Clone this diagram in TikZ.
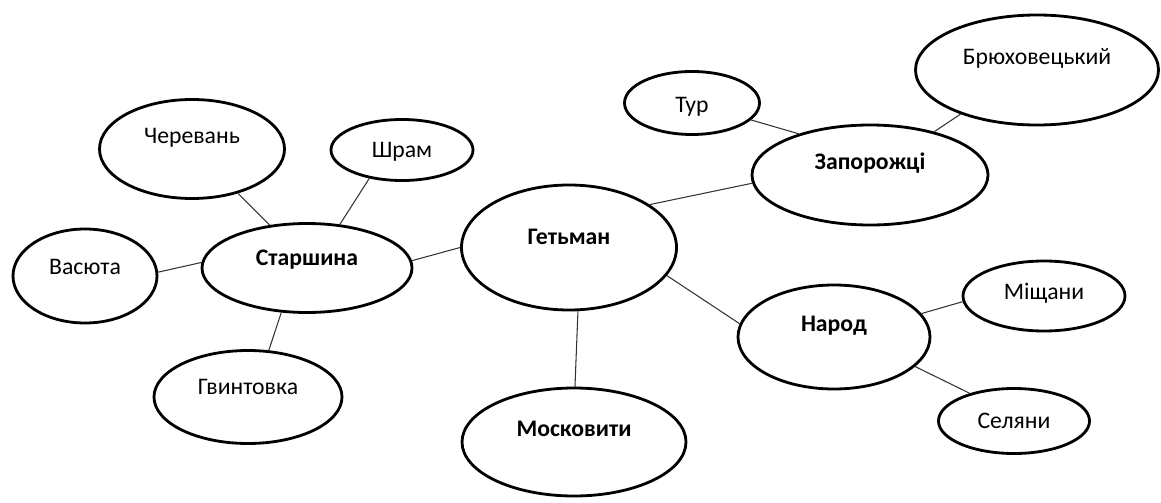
\documentclass[tikz,border=0pt]{standalone}
\usepackage{fontspec}
\setmainfont{Carlito}
\usetikzlibrary{shapes.geometric}
\begin{document}
\begin{tikzpicture}[
                oval/.style={shape=ellipse, draw=black, line width=1.6pt, inner sep=0pt},
                txt/.style={font=\fontsize{13.5}{16}\selectfont},
                bold/.style={font=\fontsize{13.5}{16}\selectfont\bfseries},
                linha/.style={draw=black!80, line width=0.6pt},
            ]
            \useasboundingbox (0, 0) rectangle (23.22, 10.04);

            \node[oval, minimum width=4.3cm, minimum height=2.5cm, label={[bold, yshift=0.21cm]center:Гетьман}] (het) at (11.38, 5.09) {};
            \node[oval, minimum width=4.2cm, minimum height=1.78cm, label={[bold, yshift=0.16cm]center:Старшина}] (sta) at (6.14, 4.68) {};
            \node[oval, minimum width=4.72cm, minimum height=2.0cm, label={[bold, yshift=0.24cm]center:Запорожці}] (zap) at (17.40, 6.54) {};
            \node[oval, minimum width=3.84cm, minimum height=2.08cm, label={[bold, yshift=0.22cm]center:Народ}] (nar) at (16.68, 3.30) {};
            \node[oval, minimum width=4.48cm, minimum height=2.16cm, label={[bold, yshift=0.26cm]center:Московити}] (mos) at (11.48, 1.20) {};

            \node[oval, minimum width=3.7cm, minimum height=1.98cm, label={[txt, yshift=0.22cm]center:Черевань}] (che) at (3.84, 7.06) {};
            \node[oval, minimum width=2.84cm, minimum height=1.22cm, label={[txt, yshift=-0.04cm]center:Шрам}] (shr) at (8.04, 7.04) {};
            \node[oval, minimum width=2.88cm, minimum height=1.88cm, label={[txt, yshift=0.18cm]center:Васюта}] (vas) at (1.70, 4.52) {};
            \node[oval, minimum width=3.76cm, minimum height=1.86cm, label={[txt, yshift=0.2cm]center:Гвинтовка}] (hvy) at (4.96, 2.10) {};
            \node[oval, minimum width=2.7cm, minimum height=1.26cm, label={[txt, yshift=-0.08cm]center:Тур}] (tur) at (13.84, 7.98) {};
            \node[oval, minimum width=4.86cm, minimum height=2.2cm, label={[txt, yshift=0.24cm]center:Брюховецький}] (bry) at (20.74, 8.64) {};
            \node[oval, minimum width=3.24cm, minimum height=1.4cm, label={[txt, yshift=0.06cm]center:Міщани}] (mis) at (20.88, 4.12) {};
            \node[oval, minimum width=3.02cm, minimum height=1.3cm, label={[txt]center:Селяни}] (sel) at (20.28, 1.62) {};

            \draw[linha] (che.-44) -- (sta.131);
            \draw[linha] (shr.221) -- (sta.53);
            \draw[linha] (vas.3) -- (sta.177);
            \draw[linha] (hvy.66) -- (sta.240);
            \draw[linha] (sta.4) -- (het.180);
            \draw[linha] (het.-82) -- (mos.89);
            \draw[linha] (het.28) -- (zap.184);
            \draw[linha] (het.-16) -- (nar.172);
            \draw[linha] (tur.-16) -- (zap.150);
            \draw[linha] (bry.210) -- (zap.34);
            \draw[linha] (nar.15) -- (mis.184);
            \draw[linha] (nar.-20) -- (sel.148);
        \end{tikzpicture}
\end{document}
